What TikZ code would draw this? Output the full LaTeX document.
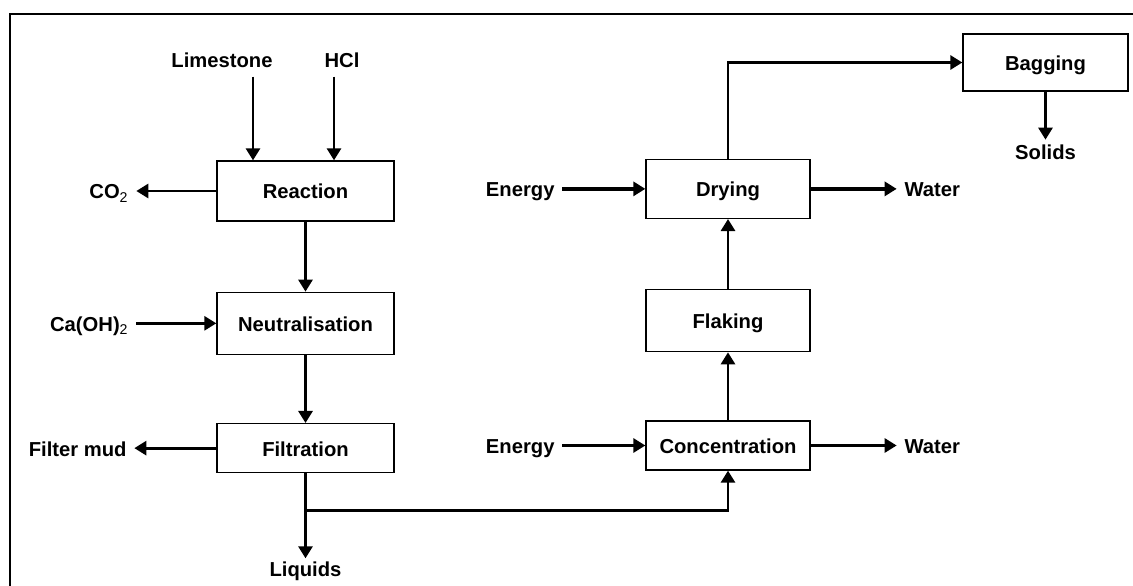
\documentclass[tikz,border=0pt]{standalone}
\usepackage{fontspec}
\setmainfont{Liberation Sans}
\usepackage{tikz}
\usetikzlibrary{arrows.meta, positioning}

\begin{document}
\begin{tikzpicture}[
	every node/.style={font=\fontsize{11.5}{13}\selectfont\bfseries},
	box/.style={draw, rectangle, line width=0.75pt, minimum width=3.54cm, align=center, text height=0.95em, text depth=0.05em},
	lbl/.style={inner sep=0.15cm, text height=0.95em, text depth=0.05em},
	arrow/.style={-{Triangle[length=0.24cm, width=0.28cm]}, line width=1.6pt},
	thickarrow/.style={arrow, line width=2.2pt}
	]
	
	\useasboundingbox (0,0) rectangle (22.66,-11.72);
	
	% Marco
	\draw[line width=1.7pt] (0.2,-11.72) -- (0.2,-0.28) -- (22.66,-0.28);
	
	% Columna izquierda
	\node[box, minimum height=1.2cm] (reaction) at (6.11,-3.82) {Reaction};
	\node[box, minimum height=1.24cm, below=1.4cm of reaction] (neutral) {Neutralisation};
	\node[box, minimum height=0.98cm, below=1.36cm of neutral] (filtration) {Filtration};
	
	% Columna derecha
	\node[box, minimum width=3.28cm, minimum height=0.98cm] (concentration) at (14.56,-8.91) {Concentration};
	\node[box, minimum width=3.28cm, minimum height=1.24cm, above=1.36cm of concentration] (flaking) {Flaking};
	\node[box, minimum width=3.28cm, minimum height=1.18cm, above=1.4cm of flaking] (drying) {Drying};
	\node[box, minimum width=3.3cm, minimum height=1.14cm] (bagging) at (20.91,-1.25) {Bagging};
	
	% Entradas y salidas
	\node[lbl] (limestone) at (4.44,-1.2) {Limestone};
	\node[lbl] (hcl) at (6.84,-1.2) {HCl};
	\node[lbl, left=1.6cm of reaction] (co2) {CO\textsubscript{\mdseries 2}};
	\node[lbl, left=1.6cm of neutral] (caoh) {Ca(OH)\textsubscript{\mdseries 2}};
	\node[lbl, left=1.64cm of filtration] (mud) {Filter mud};
	\node[lbl, inner sep=0.03cm, below=1.7cm of filtration] (liquids) {Liquids};
	\coordinate[below=0.74cm of filtration] (split);
	
	\node[lbl, left=1.66cm of drying] (energy1) {Energy};
	\node[lbl, right=1.72cm of drying] (water1) {Water};
	\node[lbl, left=1.66cm of concentration] (energy2) {Energy};
	\node[lbl, right=1.72cm of concentration] (water2) {Water};
	\node[lbl, inner sep=0.06cm, below=0.96cm of bagging] (solids) {Solids};
	
	% Flechas
	\draw[arrow] ([xshift=-1.05cm]reaction.north |- limestone.south) -- ([xshift=-1.05cm]reaction.north);
	\draw[arrow] ([xshift=0.57cm]reaction.north |- hcl.south) -- ([xshift=0.57cm]reaction.north);
	\draw[arrow] (reaction) -- (co2);
	\draw[arrow] (reaction) -- (neutral);
	\draw[arrow] (caoh) -- (neutral);
	\draw[arrow] (neutral) -- (filtration);
	\draw[arrow] (filtration) -- (mud);
	\draw[arrow] (filtration) -- (liquids);
	\draw[arrow] (split) -| (concentration);
	
	\draw[arrow] (energy2) -- (concentration);
	\draw[arrow] (concentration) -- (water2);
	\draw[arrow] (concentration) -- (flaking);
	\draw[arrow] (flaking) -- (drying);
	\draw[thickarrow] (energy1) -- (drying);
	\draw[thickarrow] (drying) -- (water1);
	\draw[arrow] (drying) |- (bagging);
	\draw[arrow] (bagging) -- (solids);
	
\end{tikzpicture}
\end{document}
